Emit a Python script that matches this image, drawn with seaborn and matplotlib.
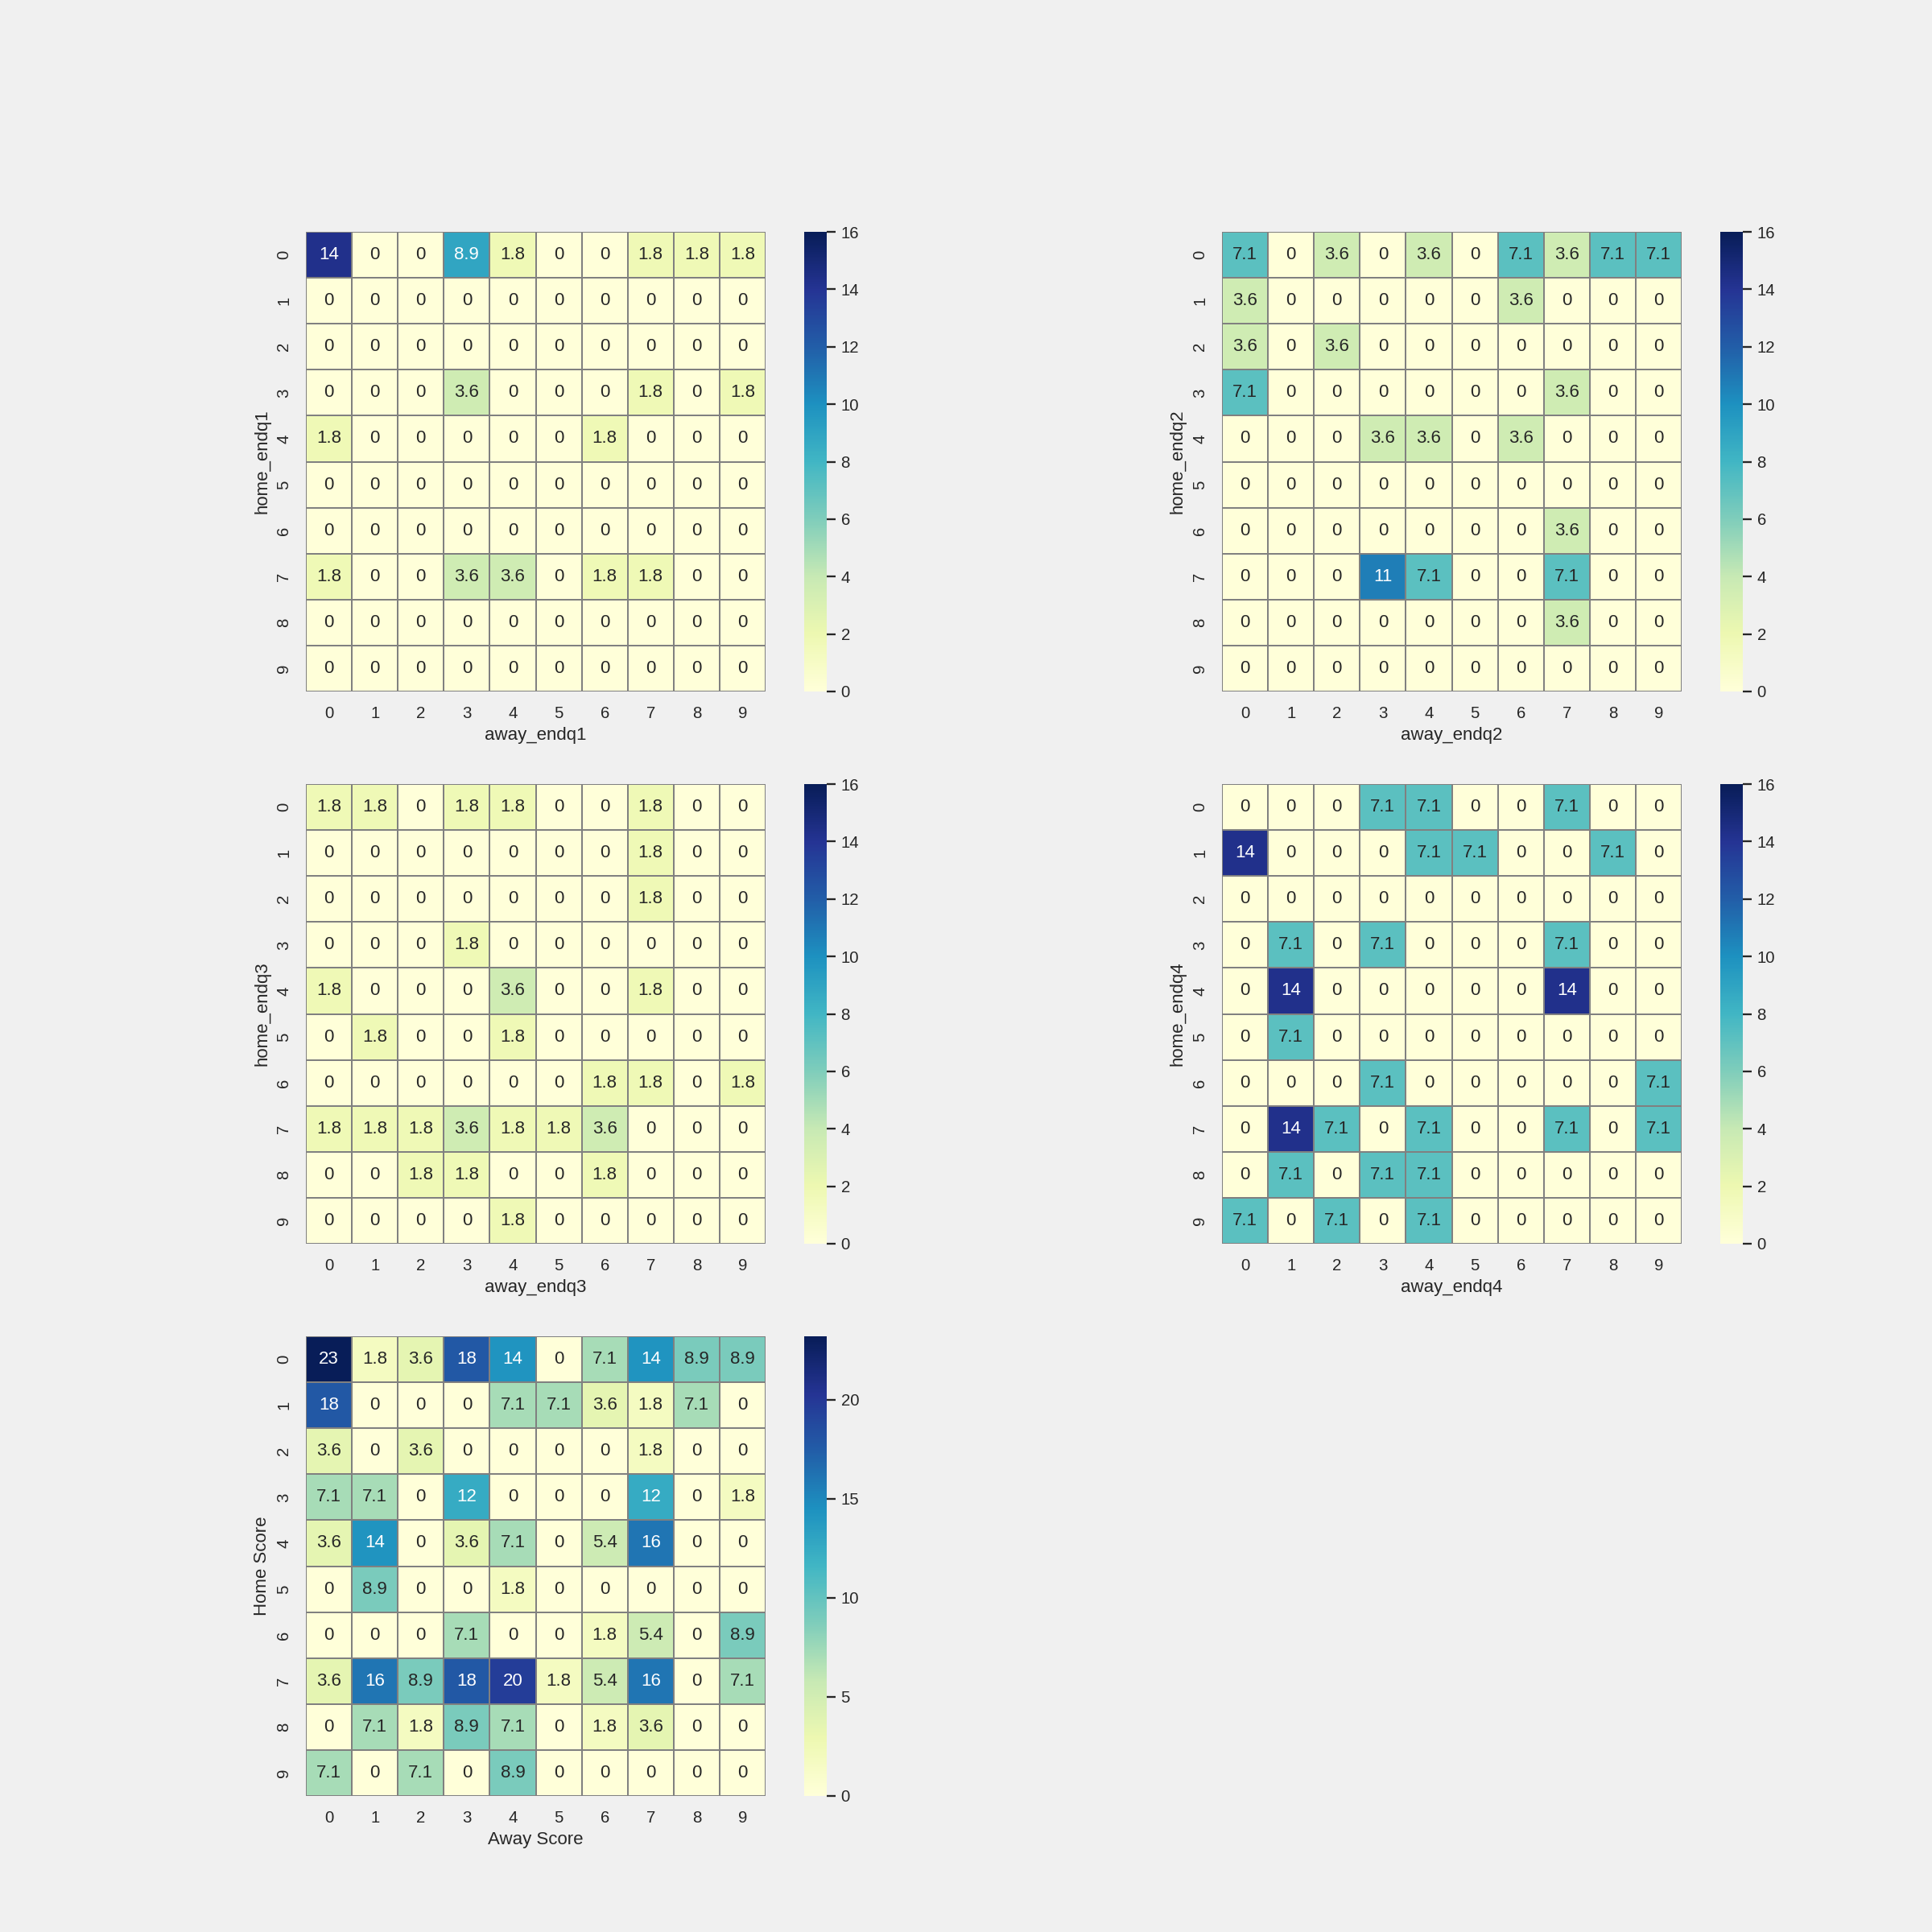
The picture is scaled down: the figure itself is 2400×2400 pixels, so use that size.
import numpy as np
import pandas as pd
import matplotlib
matplotlib.use("Agg")
import matplotlib.pyplot as plt
import seaborn as sns

# ---------------- data (percent of games) ----------------
scores = list(range(10))

q1 = [
    [14.29, 0, 0, 8.93, 1.79, 0, 0, 1.79, 1.79, 1.79],
    [0, 0, 0, 0, 0, 0, 0, 0, 0, 0],
    [0, 0, 0, 0, 0, 0, 0, 0, 0, 0],
    [0, 0, 0, 3.57, 0, 0, 0, 1.79, 0, 1.79],
    [1.79, 0, 0, 0, 0, 0, 1.79, 0, 0, 0],
    [0, 0, 0, 0, 0, 0, 0, 0, 0, 0],
    [0, 0, 0, 0, 0, 0, 0, 0, 0, 0],
    [1.79, 0, 0, 3.57, 3.57, 0, 1.79, 1.79, 0, 0],
    [0, 0, 0, 0, 0, 0, 0, 0, 0, 0],
    [0, 0, 0, 0, 0, 0, 0, 0, 0, 0],
]

q2 = [
    [7.14, 0, 3.57, 0, 3.57, 0, 7.14, 3.57, 7.14, 7.14],
    [3.57, 0, 0, 0, 0, 0, 3.57, 0, 0, 0],
    [3.57, 0, 3.57, 0, 0, 0, 0, 0, 0, 0],
    [7.14, 0, 0, 0, 0, 0, 0, 3.57, 0, 0],
    [0, 0, 0, 3.57, 3.57, 0, 3.57, 0, 0, 0],
    [0, 0, 0, 0, 0, 0, 0, 0, 0, 0],
    [0, 0, 0, 0, 0, 0, 0, 3.57, 0, 0],
    [0, 0, 0, 10.71, 7.14, 0, 0, 7.14, 0, 0],
    [0, 0, 0, 0, 0, 0, 0, 3.57, 0, 0],
    [0, 0, 0, 0, 0, 0, 0, 0, 0, 0],
]

q3 = [
    [1.79, 1.79, 0, 1.79, 1.79, 0, 0, 1.79, 0, 0],
    [0, 0, 0, 0, 0, 0, 0, 1.79, 0, 0],
    [0, 0, 0, 0, 0, 0, 0, 1.79, 0, 0],
    [0, 0, 0, 1.79, 0, 0, 0, 0, 0, 0],
    [1.79, 0, 0, 0, 3.57, 0, 0, 1.79, 0, 0],
    [0, 1.79, 0, 0, 1.79, 0, 0, 0, 0, 0],
    [0, 0, 0, 0, 0, 0, 1.79, 1.79, 0, 1.79],
    [1.79, 1.79, 1.79, 3.57, 1.79, 1.79, 3.57, 0, 0, 0],
    [0, 0, 1.79, 1.79, 0, 0, 1.79, 0, 0, 0],
    [0, 0, 0, 0, 1.79, 0, 0, 0, 0, 0],
]

q4 = [
    [0, 0, 0, 7.14, 7.14, 0, 0, 7.14, 0, 0],
    [14.29, 0, 0, 0, 7.14, 7.14, 0, 0, 7.14, 0],
    [0, 0, 0, 0, 0, 0, 0, 0, 0, 0],
    [0, 7.14, 0, 7.14, 0, 0, 0, 7.14, 0, 0],
    [0, 14.29, 0, 0, 0, 0, 0, 14.29, 0, 0],
    [0, 7.14, 0, 0, 0, 0, 0, 0, 0, 0],
    [0, 0, 0, 7.14, 0, 0, 0, 0, 0, 7.14],
    [0, 14.29, 7.14, 0, 7.14, 0, 0, 7.14, 0, 7.14],
    [0, 7.14, 0, 7.14, 7.14, 0, 0, 0, 0, 0],
    [7.14, 0, 7.14, 0, 7.14, 0, 0, 0, 0, 0],
]

final = [
    [23.21, 1.79, 3.57, 17.86, 14.29, 0, 7.14, 14.29, 8.93, 8.93],
    [17.86, 0, 0, 0, 7.14, 7.14, 3.57, 1.79, 7.14, 0],
    [3.57, 0, 3.57, 0, 0, 0, 0, 1.79, 0, 0],
    [7.14, 7.14, 0, 12.5, 0, 0, 0, 12.5, 0, 1.79],
    [3.57, 14.29, 0, 3.57, 7.14, 0, 5.36, 16.07, 0, 0],
    [0, 8.93, 0, 0, 1.79, 0, 0, 0, 0, 0],
    [0, 0, 0, 7.14, 0, 0, 1.79, 5.36, 0, 8.93],
    [3.57, 16.07, 8.93, 17.86, 19.64, 1.79, 5.36, 16.07, 0, 7.14],
    [0, 7.14, 1.79, 8.93, 7.14, 0, 1.79, 3.57, 0, 0],
    [7.14, 0, 7.14, 0, 8.93, 0, 0, 0, 0, 0],
]

panels = [
    (q1, "away_endq1", "home_endq1", 16),
    (q2, "away_endq2", "home_endq2", 16),
    (q3, "away_endq3", "home_endq3", 16),
    (q4, "away_endq4", "home_endq4", 16),
    (final, "Away Score", "Home Score", None),
]

# ---------------- style ----------------
sns.set_theme()
plt.rcParams['font.family'] = ['Liberation Sans', 'DejaVu Sans']
BG = "#f0f0f0"

W = 2400.0
fig = plt.figure(figsize=(18, 18), dpi=W / 18, facecolor=BG)

col_x = [380, 1518]
row_y = [288, 974, 1660]
size = 571
cb_off = 619
cb_w = 28

for i, (vals, xl, yl, vmax) in enumerate(panels):
    r, c = divmod(i, 2)
    x0, y0 = col_x[c], row_y[r]
    ax = fig.add_axes([x0 / W, 1 - (y0 + size) / W, size / W, size / W])
    cax = fig.add_axes([(x0 + cb_off) / W, 1 - (y0 + size) / W, cb_w / W, size / W])
    df = pd.DataFrame(vals, index=scores, columns=scores)
    sns.heatmap(df, ax=ax, cbar_ax=cax, cmap="YlGnBu", annot=True,
                linewidths=1, linecolor="gray", vmin=0, vmax=vmax)
    ax.set_xlabel(xl)
    ax.set_ylabel(yl)

fig.savefig("out.png", dpi=W / 18, facecolor=BG)
